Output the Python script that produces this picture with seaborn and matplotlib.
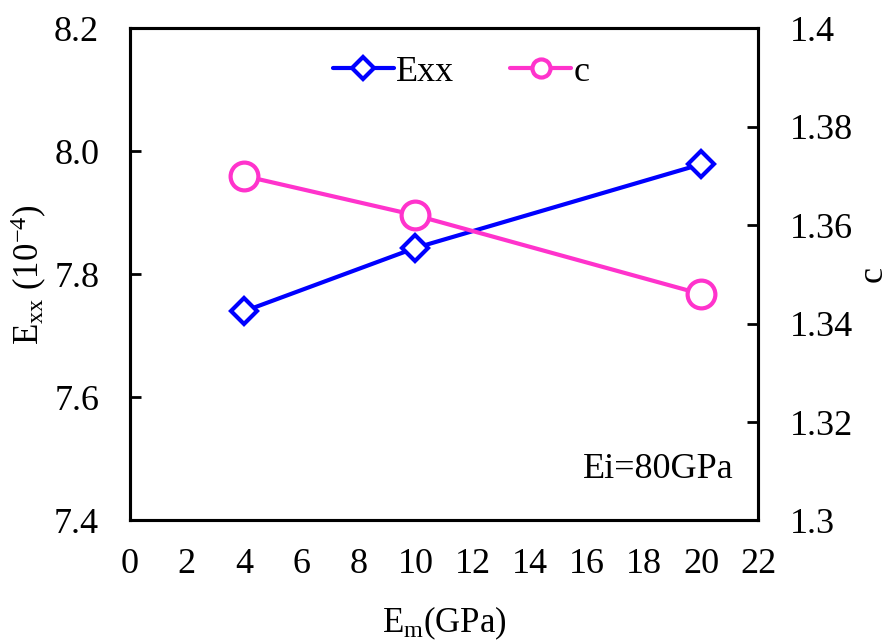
import matplotlib
matplotlib.use("Agg")
import matplotlib.pyplot as plt
import seaborn as sns
import pandas as pd

em = [4, 10, 20]
exx = [7.740, 7.843, 7.979]
c_vals = [1.370, 1.362, 1.346]
xticks = list(range(0, 23, 2))
left_ticks = [7.4, 7.6, 7.8, 8.0, 8.2]
right_ticks = [1.30, 1.32, 1.34, 1.36, 1.38, 1.40]
right_labels = ["1.3", "1.32", "1.34", "1.36", "1.38", "1.4"]

sns.set_theme(style="white")
plt.rcParams['font.family'] = ['Liberation Serif', 'DejaVu Serif']
plt.rcParams['mathtext.fontset'] = 'custom'
plt.rcParams['mathtext.rm'] = 'Liberation Serif'
plt.rcParams['mathtext.it'] = 'Liberation Serif'
plt.rcParams['text.color'] = 'black'
plt.rcParams['axes.labelcolor'] = 'black'

df1 = pd.DataFrame({"Em": em, "Exx": exx})
df2 = pd.DataFrame({"Em": em, "c": c_vals})

fig = plt.figure(figsize=(8.89, 6.41), dpi=100)
ax = fig.add_axes([0.146, 0.188, 0.707, 0.768])
ax2 = ax.twinx()

blue = "#0000FF"
pink = "#FF33CC"
fs = 26

sns.lineplot(data=df1, x="Em", y="Exx", ax=ax, color=blue, linewidth=3,
             marker="D", markersize=13, markerfacecolor="white",
             markeredgecolor=blue, markeredgewidth=3, label="Exx", legend=False)
sns.lineplot(data=df2, x="Em", y="c", ax=ax2, color=pink, linewidth=3,
             marker="o", markersize=20, markerfacecolor="white",
             markeredgecolor=pink, markeredgewidth=3, label="c", legend=False)

ax.set_xlim(0, 22)
ax.set_ylim(7.4, 8.2)
ax2.set_ylim(1.3, 1.4)
ax.set_xticks(xticks)
ax.set_xticklabels([str(t) for t in xticks])
ax.set_yticks(left_ticks)
ax.set_yticklabels([f"{t:.1f}" for t in left_ticks])
ax2.set_yticks(right_ticks)
ax2.set_yticklabels(right_labels)

for a in (ax, ax2):
    for s in a.spines.values():
        s.set_color("black")
        s.set_linewidth(2.2)
    a.tick_params(direction="in", length=8, width=2, colors="black",
                  labelsize=fs)
ax.tick_params(axis="x", pad=20)
ax.tick_params(axis="y", pad=22)
ax2.tick_params(axis="y", pad=23, labelright=True)

ax.set_xlabel(r"E$_{\mathrm{m}}$(GPa)", fontsize=fs - 1, labelpad=17, color="black")
ax.set_ylabel(r"E$_{\mathrm{xx}}$ (10$^{\mathrm{-4}}$)", fontsize=fs - 1, labelpad=4, color="black")
ax2.set_ylabel("c", fontsize=fs, labelpad=2, color="black")

ax.text(0.96, 0.07, "Ei=80GPa", transform=ax.transAxes, ha="right",
        va="bottom", fontsize=fs, color="black")

h1, l1 = ax.get_legend_handles_labels()
h2, l2 = ax2.get_legend_handles_labels()
leg = ax.legend(h1 + h2, l1 + l2, loc="upper center", ncol=2, frameon=False,
                fontsize=fs, handlelength=1.7, handletextpad=0.05,
                columnspacing=1.55, bbox_to_anchor=(0.527, 1.01))
for t in leg.get_texts():
    t.set_color("black")
leg.legend_handles[0].set_markersize(11)
leg.legend_handles[1].set_markersize(13)

fig.savefig("out.png", dpi=100)
